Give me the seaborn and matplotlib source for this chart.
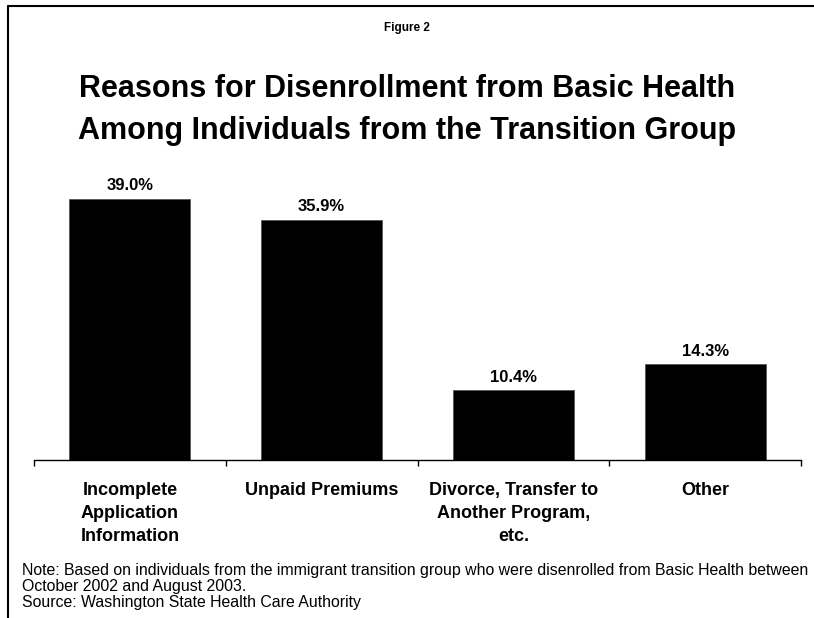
import matplotlib
matplotlib.use("Agg")
import matplotlib.pyplot as plt
import seaborn as sns
import pandas as pd
from matplotlib.lines import Line2D
from matplotlib.ticker import FixedLocator

categories = ["Incomplete\nApplication\nInformation", "Unpaid Premiums",
              "Divorce, Transfer to\nAnother Program,\netc.", "Other"]
values = [39.0, 35.9, 10.4, 14.3]
value_labels = ["39.0%", "35.9%", "10.4%", "14.3%"]

sns.set_theme(style="white")
plt.rcParams["font.family"] = ["Liberation Sans", "DejaVu Sans"]
plt.rcParams["text.color"] = "black"

W, H = 814, 618
fig = plt.figure(figsize=(W / 100, H / 100), dpi=100)
fig.patch.set_facecolor("white")

ax = fig.add_axes([34 / W, 1 - 460 / H, 767 / W, 290 / H])
df = pd.DataFrame({"cat": categories, "val": values})
sns.barplot(data=df, x="cat", y="val", color="black", width=0.63,
            saturation=1, ax=ax, edgecolor="#555555", linewidth=0.6)
ax.set_ylim(0, 43.3)
ax.set_xlim(-0.5, 3.5)
for s in ["top", "right", "left"]:
    ax.spines[s].set_visible(False)
ax.spines["bottom"].set_color("black")
ax.spines["bottom"].set_linewidth(1.0)
ax.set_yticks([])
ax.set_xlabel("")
ax.set_ylabel("")
ax.xaxis.set_minor_locator(FixedLocator([-0.5, 0.5, 1.5, 2.5, 3.5]))
ax.tick_params(axis="x", which="minor", bottom=True, length=4.5, width=1, color="black", direction="out")
ax.tick_params(axis="x", which="major", bottom=True, length=0, pad=16)
for lbl in ax.get_xticklabels():
    lbl.set_fontweight("bold")
    lbl.set_fontsize(13)
    lbl.set_linespacing(1.45)
    lbl.set_color("black")

ax.bar_label(ax.containers[0], labels=value_labels, padding=4,
             fontsize=12, fontweight="bold", color="black")

fig.text(0.5, 1 - 28 / H, "Figure 2", ha="center", va="center",
         fontsize=8.5, fontweight="bold", color="black")
fig.text(0.5, 1 - 110 / H,
         "Reasons for Disenrollment from Basic Health\nAmong Individuals from the Transition Group",
         ha="center", va="center", fontsize=22, fontweight="bold", linespacing=1.5, color="black")

notes = ["Note: Based on individuals from the immigrant transition group who were disenrolled from Basic Health between",
         "October 2002 and August 2003.",
         "Source: Washington State Health Care Authority"]
for i, t in enumerate(notes):
    fig.text(22 / W, 1 - (570 + 16 * i) / H, t, ha="left", va="center", fontsize=11.4, color="black")

fig.add_artist(Line2D([8 / W, 1], [1 - 5.5 / H, 1 - 5.5 / H], color="black", lw=1.5,
                      transform=fig.transFigure))
fig.add_artist(Line2D([8 / W, 8 / W], [1 - 5.5 / H, 0], color="black", lw=1.5,
                      transform=fig.transFigure))

fig.savefig("out.png", dpi=100)
